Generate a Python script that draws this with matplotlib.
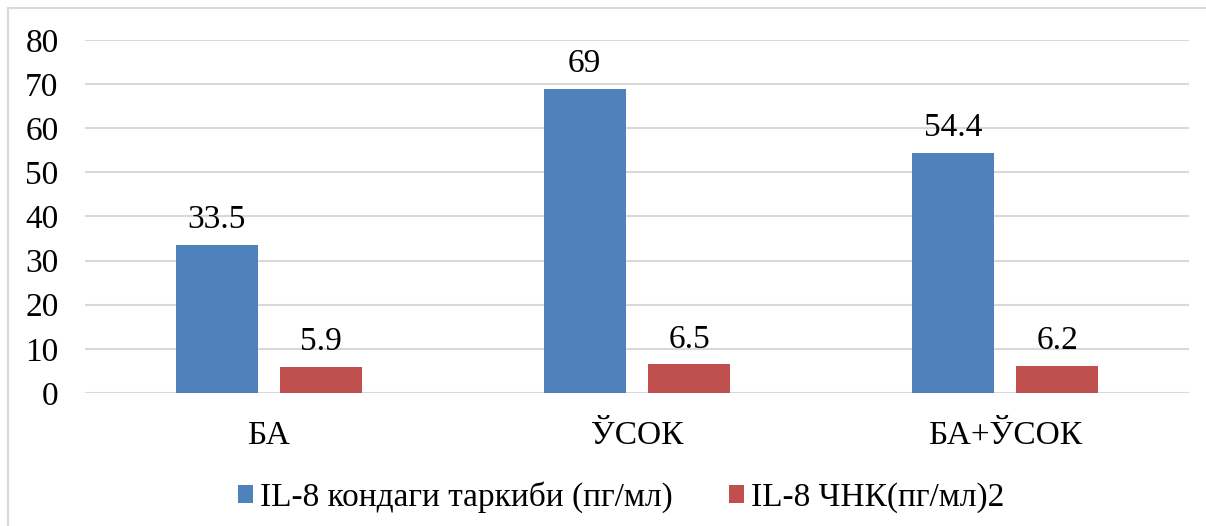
import matplotlib
matplotlib.use('Agg')
import matplotlib.pyplot as plt
import numpy as np

categories = ['БА', 'ЎСОК', 'БА+ЎСОК']
il8_content = [33.5, 69, 54.4]
il8_chnk = [5.9, 6.5, 6.2]
series_names = ['IL-8 кондаги таркиби (пг/мл)', 'IL-8 ЧНК(пг/мл)2']
yticks = [0, 10, 20, 30, 40, 50, 60, 70, 80]

plt.rcParams['font.family'] = ['Liberation Serif', 'DejaVu Serif']
fs = 24

fig = plt.figure(figsize=(12.06, 5.26), dpi=100)
ax = fig.add_axes([85 / 1206, 1 - 393 / 526, 1104 / 1206, 353 / 526])

# outer chart border
fig.patches.append(plt.Rectangle((8 / 1206, -0.05), 1.1, 1 - 8 / 526 + 0.05,
                                 transform=fig.transFigure, fill=False,
                                 edgecolor='#d9d9d9', linewidth=1.5))

x = np.arange(len(categories))
w = 0.223
off = 0.142
b1 = ax.bar(x - off, il8_content, w, color='#4f81bd', label=series_names[0], zorder=3)
b2 = ax.bar(x + off, il8_chnk, w, color='#c0504d', label=series_names[1], zorder=3)

for bars, vals in ((b1, il8_content), (b2, il8_chnk)):
    for r, v in zip(bars, vals):
        ax.annotate(f'{v:g}', (r.get_x() + r.get_width() / 2, v),
                    xytext=(0, 7), textcoords='offset points',
                    ha='center', va='bottom', fontsize=fs)

ax.set_xlim(-0.5, 2.5)
ax.set_ylim(0, 80)
ax.set_yticks(yticks)
ax.set_xticks(x)
ax.set_xticklabels(categories)
ax.tick_params(axis='both', length=0, labelsize=fs)
ax.tick_params(axis='y', pad=19)
ax.tick_params(axis='x', pad=20)
ax.grid(axis='y', color='#d9d9d9', linewidth=1.5, zorder=0)
for s in ax.spines.values():
    s.set_visible(False)

fig.legend(handles=[b1, b2], loc='center', bbox_to_anchor=(621 / 1206, 1 - 497 / 526),
           ncol=2, frameon=False, fontsize=fs, handlelength=0.45, handleheight=0.45,
           handletextpad=0.2, columnspacing=1.7)

fig.savefig('out.png', dpi=100)
